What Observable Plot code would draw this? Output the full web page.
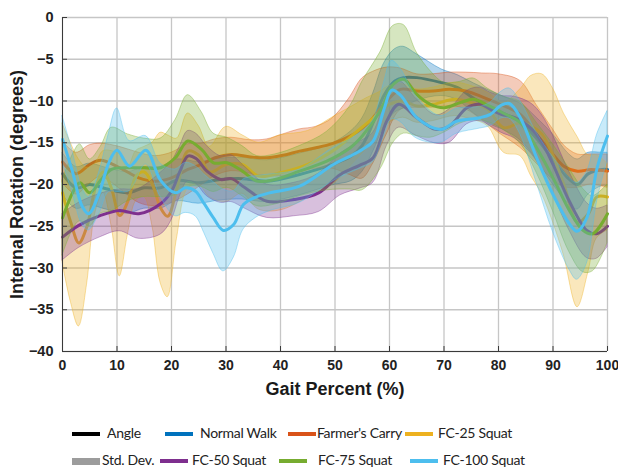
<!DOCTYPE html>
<html><head><meta charset="utf-8">
<script src="https://cdn.jsdelivr.net/npm/d3@7"></script>
<script src="https://cdn.jsdelivr.net/npm/@observablehq/plot@0.6"></script>
<style>
body{margin:0;background:#fff;width:618px;height:468px;overflow:hidden;font-family:"Liberation Sans",Arial,sans-serif}
#chart svg{display:block}
[aria-label="x-axis label"] text,[aria-label="y-axis label"] text{font-size:18px;font-weight:bold;fill:#1a1a1a}
#legend{position:relative;width:618px;height:63px;font-family:Lato,"Open Sans",sans-serif;font-size:14px;letter-spacing:-0.3px;color:#222}
.sw{position:absolute;height:4px}
.lb{position:absolute;line-height:18px;white-space:nowrap}
</style></head><body>
<div id="chart"></div><div id="legend"></div>
<script>
const xTicks = [0,10,20,30,40,50,60,70,80,90,100];
const yTicks = [-40,-35,-30,-25,-20,-15,-10,-5,0];
const seriesNames = ["Normal Walk","Farmer's Carry","FC-25 Squat","FC-50 Squat","FC-75 Squat","FC-100 Squat"];
const seriesColors = ["#0072BD","#D95319","#EDB120","#7E2F8E","#77AC30","#4DBEEE"];

const nwX  = [0,2.5,5,8,12,15,18,21,25,29,33,37.5,43.5,49.5,53,55,57,59,61,62.5,65,69.5,72.5,75.5,78.5,81,84,87,90,93,94.5,96.5,99,100];
const nwM  = [-18.7,-20.4,-20,-20.5,-21,-20.4,-20.4,-19.5,-19.8,-19.4,-19.3,-19.6,-18.8,-17.6,-16.6,-15.3,-12.6,-9.3,-7.6,-7.2,-7.2,-7.8,-8.4,-9.7,-10.8,-11.5,-12.5,-14.5,-17,-19.4,-20,-18.7,-18.2,-18.2];
const nwSD = [2.5,2.5,2.5,2.5,2.5,2.5,2.5,2.5,2.5,2.5,2.5,2.5,2.5,2.5,3,3.2,3.5,3.8,3.8,3.7,2.8,1.6,1.5,1.8,2,2,2.2,2.5,3,3,3,2.5,2,2];

const fcX  = [0,2.5,5,7,10.5,14,17,20,23,25.5,28,31,34.5,37.5,40.5,43.5,46.5,49.5,52.5,55,57,59.5,62,65,68,71,74,77,80,84,87,90,92,94.5,97,100];
const fcM  = [-17.3,-18.7,-17.6,-17.1,-18,-19.2,-19.6,-19.2,-18.2,-17.6,-16.8,-16.4,-16.7,-16.8,-16.5,-16,-15.6,-15.1,-14.3,-13.3,-12,-10,-8.6,-8.8,-8.8,-8.6,-8.8,-9.5,-10.3,-11.6,-14,-16.4,-17.8,-18.4,-18.2,-18.4];
const fcSD = [2.5,2.5,2.3,2,2.5,3,3,3,3,2.5,2.2,2,2,2.2,2.5,2.6,2.5,3,4.5,6,5.5,4,2.5,2,2,2,2.2,2.8,3.5,4,3.5,3,2.5,2,1.8,2];

const f25X  = [0,1.5,3,4.5,6,7.5,9,10.5,12,13.5,15,16.5,18,19.3,21,23,25,27,30,33,36,40,45,50,53,56,58,60,62.5,65,68,72,75,78,81,84,86,88,90,92,94.5,96.5,98,100];
const f25M  = [-21,-24.5,-27,-25,-20.5,-18.5,-20.5,-23.7,-22,-19,-18.5,-20,-22.8,-23.8,-20.5,-16,-16.5,-18.5,-17.6,-17.6,-19,-18.6,-17.6,-15.8,-14.2,-12.6,-11.5,-10.4,-10,-10.6,-10.4,-9.8,-10.2,-11,-13.2,-12.6,-13,-14,-16.5,-20,-24.5,-23.5,-21.5,-21.5];
const f25SD = [8.3,9.5,10,7,3,2.5,4.5,7.3,4,3,3,5,9,9.7,6,4.5,3.5,3,4.5,3.5,4,4.5,4,4,3.5,3,2.5,2.2,2,2,2,2,2,2,3,4,6,7.2,8,8.5,10.2,7,5,4];

const f50X  = [0,3,7,10.5,14,18,20,21.5,23,24.5,26.5,29,31,33.5,37.5,42.5,47,51,54.5,57,59.5,61.7,65,68.5,71,74.2,76.6,78.5,80.5,83,86,88,90,93,96.2,98,100];
const f50M  = [-26.3,-24.9,-23.7,-23.1,-23.5,-22.3,-20.8,-18.5,-16.6,-16.9,-18.4,-19.4,-19.3,-20.4,-22,-21.8,-21,-18.8,-17.7,-16.8,-12.4,-10.4,-12,-13.4,-13,-10.8,-10.4,-11,-11.6,-12,-13.3,-15,-17.6,-22,-25.5,-25.9,-25];
const f50SD = [2.8,2.7,2.6,2.5,3,3.7,3.5,3,3,3,3,2.8,2.8,2.5,2,2,2.3,2.5,2.8,3,3,2.8,2.2,1.7,2,2,2,2,2.2,2.5,3,3.3,3.5,3.5,3.3,3,2.5];

const f75X  = [0,2,3.2,5,7,9,12,15,18,20.7,23,25.5,27.7,30.2,33,35.7,39,43.5,48.5,52.8,55,58.3,60.7,62.6,65,67.5,70,73,75.4,78,81,84,87,90,93,95.5,97.3,100];
const f75M  = [-24,-20.8,-19.8,-21,-19.5,-18.2,-18,-18,-18,-16.8,-14.8,-15.8,-17.4,-17.4,-18.4,-19.6,-19.4,-18.4,-17.2,-15.6,-14.2,-11.2,-8,-7.4,-9.2,-10.4,-10.8,-10.2,-9.8,-10.5,-11.5,-12.6,-15.6,-19.2,-23.1,-25.5,-25.9,-23.5];
const f75SD = [4.5,4.5,4.6,4,4,5,4,3.5,3.5,4.5,5.5,4.5,3.5,3,3,3,3,3,3.5,5,6.5,7,7,6.5,5,4,3,2.5,2.5,2,2,2.5,3,4,5,5,4.5,3.5];

const f100X  = [0,1.8,3.6,4.8,6.7,8.5,10,12.3,15.3,18,20.7,22.6,24.4,26,27.7,29.5,31.4,33.2,35.5,38,43.5,49.7,52.8,55,57,59,60.4,62,65,69.3,72.4,76.6,78.5,80.5,82,84,87,90,93,94.4,96.2,98.1,100];
const f100M  = [-14.6,-18.4,-22.6,-23.5,-21.1,-17.4,-15.9,-17.8,-15.9,-19.5,-21,-20.4,-20.8,-22.3,-24,-25.5,-24.8,-22.4,-21.5,-21,-20.2,-17.6,-16.6,-15.8,-14.8,-11,-8.7,-9.3,-12,-13.4,-12.4,-12,-11.6,-10.5,-10.3,-12,-16.8,-21.2,-24.7,-25.6,-24,-18,-14.2];
const f100SD = [2.8,2.5,2.2,2,2.5,3.5,5,3,1.7,2,2.8,3,3,3.5,4.3,4.9,4,3,2.5,2.2,2,2,2,2.2,2.5,3.2,3.5,3.2,2.5,1.6,1.5,1.3,1.4,1.6,1.8,2,3,4.5,5.5,5.8,5.5,4,3];

const seriesData = [[nwX,nwM,nwSD],[fcX,fcM,fcSD],[f25X,f25M,f25SD],[f50X,f50M,f50SD],[f75X,f75M,f75SD],[f100X,f100M,f100SD]];

const marks = [
  Plot.ruleX(xTicks, {stroke:"#c6c6c6", strokeWidth:1.3}),
  Plot.ruleY(yTicks, {stroke:"#c6c6c6", strokeWidth:1.3})
];
seriesData.forEach(([xs, ms, sds], i) => {
  const rows = xs.map((x, j) => ({x, m: ms[j], lo: ms[j] - sds[j], hi: ms[j] + sds[j]}));
  const c = seriesColors[i];
  marks.push(Plot.areaY(rows, {x:"x", y1:"lo", y2:"hi", fill:c, fillOpacity:0.3, stroke:c, strokeOpacity:0.5, strokeWidth:0.8, curve:"catmull-rom"}));
  marks.push(Plot.lineY(rows, {x:"x", y:"m", stroke:c, strokeWidth:3, curve:"catmull-rom"}));
});
marks.push(
  Plot.ruleX([0], {stroke:"#3a3a3a", strokeWidth:1}),
  Plot.ruleY([-40], {stroke:"#3a3a3a", strokeWidth:1}),
  Plot.axisX({ticks:xTicks, tickSize:-5, tickFormat:()=>"", label:null, stroke:"#3a3a3a"}),
  Plot.axisY({ticks:yTicks, tickSize:-5, tickFormat:()=>"", label:null, stroke:"#3a3a3a"}),
  Plot.axisX({ticks:xTicks, tickSize:0, tickPadding:9, fontSize:14, fontWeight:"bold", label:"Gait Percent (%)", labelAnchor:"center", labelArrow:"none", labelOffset:43}),
  Plot.axisY({ticks:yTicks, tickSize:0, tickPadding:9, fontSize:14.5, fontWeight:"bold", label:"Internal Rotation (degrees)", labelAnchor:"center", labelArrow:"none", labelOffset:52})
);

const chart = Plot.plot({
  width: 618, height: 405,
  marginLeft: 62, marginRight: 11, marginTop: 17, marginBottom: 54,
  x: {domain:[0,100]},
  y: {domain:[-40,0]},
  style: {background:"#fff", color:"#222", fontFamily:"'Liberation Sans', Arial, sans-serif"},
  marks
});
document.getElementById("chart").append(chart);

const legendItems = [
  {name:"Angle", color:"#000", h:4, sx:72, tx:107, row:0},
  {name:seriesNames[0], color:seriesColors[0], h:4, sx:165, tx:200, row:0},
  {name:seriesNames[1], color:seriesColors[1], h:4, sx:288, tx:317, row:0},
  {name:seriesNames[2], color:seriesColors[2], h:4, sx:405, tx:438, row:0},
  {name:"Std. Dev.", color:"#9c9c9c", h:7, sx:72, tx:102, row:1},
  {name:seriesNames[3], color:seriesColors[3], h:4, sx:160, tx:192, row:1},
  {name:seriesNames[4], color:seriesColors[4], h:4, sx:279, tx:318, row:1},
  {name:seriesNames[5], color:seriesColors[5], h:4, sx:410, tx:443, row:1}
];
const lg = document.getElementById("legend");
legendItems.forEach(it => {
  const cy = it.row === 0 ? 29 : 56;
  const s = document.createElement("div");
  s.className = "sw";
  s.style.left = it.sx + "px"; s.style.width = "28px";
  s.style.top = (cy - it.h/2) + "px"; s.style.height = it.h + "px";
  s.style.background = it.color;
  lg.append(s);
  const t = document.createElement("div");
  t.className = "lb";
  t.style.left = it.tx + "px"; t.style.top = (cy - 10) + "px";
  t.textContent = it.name;
  lg.append(t);
});
</script>
</body></html>
